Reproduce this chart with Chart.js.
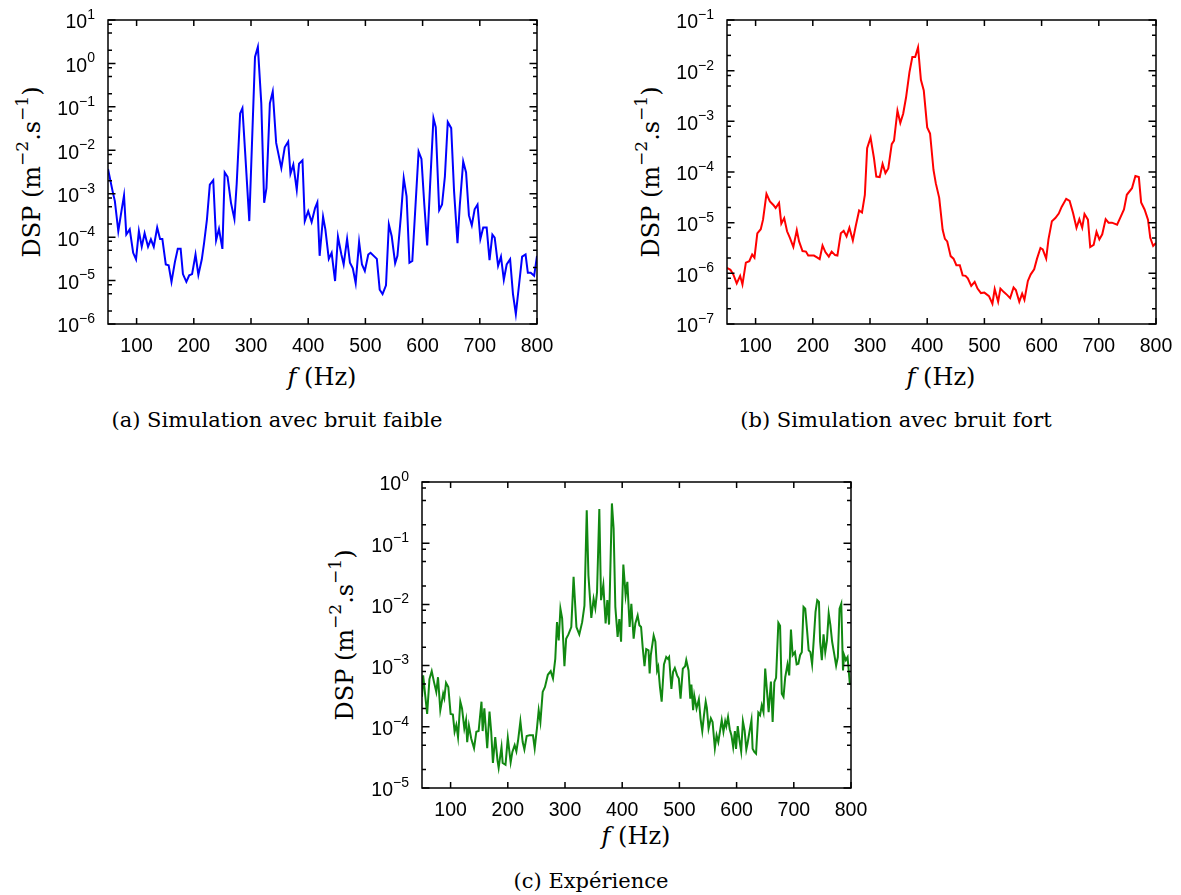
<!DOCTYPE html>
<html lang="fr">
<head>
<meta charset="UTF-8">
<title>DSP - simulations et expérience</title>
<script src="https://cdn.jsdelivr.net/npm/chart.js"></script>
<style>
  html, body { margin: 0; padding: 0; background: #fff; }
  #page { position: relative; width: 1181px; height: 895px; overflow: hidden; }
  #page canvas { position: absolute; }
  .txt { position: absolute; font-family: "DejaVu Serif", serif; color: #000; white-space: nowrap; line-height: 1; transform: translate(-50%, -50%); }
  .xlab { font-size: 24px; }
  .cap { font-size: 21px; }
  .ylab { font-size: 24px; transform: translate(-50%, -50%) rotate(-90deg); }
  .ylab sup { font-size: 17px; position: relative; top: -0.7em; vertical-align: baseline; }
</style>
</head>
<body>
<div id="page">
  <div class="txt ylab" style="left:32px; top:172px">DSP (m<sup>−2</sup>.s<sup>−1</sup>)</div>
  <div class="txt xlab" style="left:322px; top:377px"><i>f</i> (Hz)</div>
  <div class="txt cap" style="left:277px; top:420px">(a) Simulation avec bruit faible</div>

  <div class="txt ylab" style="left:651px; top:172px">DSP (m<sup>−2</sup>.s<sup>−1</sup>)</div>
  <div class="txt xlab" style="left:941px; top:377px"><i>f</i> (Hz)</div>
  <div class="txt cap" style="left:896px; top:420px">(b) Simulation avec bruit fort</div>

  <div class="txt ylab" style="left:345px; top:635px">DSP (m<sup>−2</sup>.s<sup>−1</sup>)</div>
  <div class="txt xlab" style="left:636px; top:836px"><i>f</i> (Hz)</div>
  <div class="txt cap" style="left:591px; top:881px">(c) Expérience</div>
</div>

<script>
// frequency ticks (Hz)
const xTicks = [100, 200, 300, 400, 500, 600, 700, 800];

// (a) simulation, low noise : f (Hz) and log10(DSP)
const freqA = [50,58,62,68,74,78,82,88,94,99,104,109,114,120,125,130,136,141,145,151,156,161,167,172,177,181,187,192,197,203,208,214,218,223,228,234,239,244,250,254,259,265,271,275,281,285,290,297,307,312,318,323,327,333,338,344,353,359,365,369,374,380,384,390,394,400,406,412,416,420,
  426,430,436,441,447,452,458,462,468,473,478,483,489,494,499,505,509,520,525,530,536,541,546,552,556,562,567,572,577,582,593,598,603,608,613,619,623,629,634,639,644,650,655,661,665,671,676,681,686,691,696,701,706,712,717,722,726,732,737,742,747,753,758,763,769,774,780,784,789,795,800];
const logDspA = [-2.43,-2.94,-3.17,-3.86,-3.36,-3.04,-3.94,-3.82,-4.36,-4.51,-3.86,-4.22,-3.91,-4.22,-4.05,-4.22,-3.78,-4.04,-4.04,-4.63,-4.65,-5.03,-4.57,-4.27,-4.27,-4.85,-5.03,-4.88,-4.85,-4.40,-4.87,-4.51,-4.13,-3.59,-2.79,-2.69,-4.07,-3.81,-4.27,-2.51,-2.61,-3.21,-3.58,-2.77,-1.15,-1.03,-2.10,-3.63,0.15,0.38,-0.92,-3.21,-2.87,-0.92,-0.65,-1.83,-2.41,-1.93,-1.80,-2.54,-2.33,-2.91,-2.31,-2.23,-3.63,-3.40,-3.65,-3.33,-3.20,-4.43,
  -3.53,-3.82,-4.50,-4.36,-5.01,-3.99,-4.40,-4.63,-4.04,-4.59,-4.72,-5.06,-4.11,-4.63,-4.78,-4.40,-4.36,-4.50,-5.21,-5.31,-5.11,-3.71,-3.98,-4.60,-4.43,-3.52,-2.64,-3.06,-4.59,-4.55,-2.03,-2.20,-3.25,-4.19,-2.83,-1.26,-1.47,-3.38,-3.25,-2.60,-1.35,-1.49,-2.94,-4.14,-3.27,-2.26,-2.51,-3.50,-3.73,-3.36,-3.25,-4.04,-3.78,-3.78,-4.53,-3.94,-4.01,-4.66,-4.45,-4.98,-4.63,-4.51,-5.31,-5.77,-5.05,-4.45,-4.40,-4.82,-4.82,-4.89,-4.43];

// (b) simulation, high noise
const freqB = [50,56,61,67,73,77,83,89,94,98,103,109,113,119,125,131,135,141,145,150,155,160,166,172,176,182,188,192,202,208,212,217,222,228,233,239,243,249,254,259,264,270,275,281,286,291,295,301,307,311,317,322,327,332,338,342,348,353,358,363,369,374,379,384,389,394,400,405,411,415,
  421,427,431,435,441,446,451,457,462,467,471,477,483,488,494,500,508,514,518,524,528,534,540,545,551,555,561,566,570,576,581,587,592,598,602,608,612,618,624,630,635,643,649,655,661,666,671,675,681,685,691,696,701,706,712,717,723,732,738,744,749,758,764,770,774,780,786,790,795,800];
const logDspB = [-5.89,-5.93,-6.02,-6.20,-6.05,-6.22,-5.79,-5.76,-5.63,-5.69,-5.21,-5.13,-4.94,-4.43,-4.58,-4.65,-4.71,-4.61,-5.02,-4.91,-5.17,-5.30,-5.48,-5.15,-5.37,-5.56,-5.57,-5.65,-5.65,-5.69,-5.72,-5.45,-5.58,-5.67,-5.57,-5.64,-5.65,-5.21,-5.16,-5.27,-5.10,-5.35,-5.07,-4.76,-4.80,-4.45,-3.53,-3.32,-3.73,-4.09,-4.10,-3.84,-4.02,-3.93,-3.45,-3.38,-2.79,-3.03,-2.85,-2.53,-2.03,-1.73,-1.73,-1.54,-2.18,-2.39,-3.12,-3.24,-3.96,-4.22,
  -4.51,-5.14,-5.32,-5.37,-5.66,-5.71,-5.84,-5.84,-6.04,-6.05,-6.10,-6.25,-6.17,-6.30,-6.39,-6.38,-6.45,-6.60,-6.31,-6.56,-6.30,-6.37,-6.43,-6.49,-6.28,-6.33,-6.56,-6.40,-6.52,-6.15,-6.02,-5.92,-5.71,-5.50,-5.53,-5.71,-5.33,-4.97,-4.91,-4.82,-4.69,-4.53,-4.57,-4.81,-5.10,-4.93,-5.10,-4.83,-4.94,-5.48,-5.44,-5.18,-5.33,-5.23,-4.93,-5.00,-5.00,-5.04,-4.89,-4.74,-4.45,-4.32,-4.08,-4.10,-4.60,-4.74,-4.94,-5.30,-5.46,-5.40];

// (c) experiment
const freqC = [50,52,59,63,67,71,75,78,82,87,89,92,96,100,104,107,110,113,117,120,124,127,129,132,136,141,145,149,154,156,159,164,168,171,174,178,182,184,189,191,196,200,205,208,212,215,218,222,226,229,233,238,244,247,251,254,257,261,265,270,275,279,283,286,289,292,295,299,302,306,311,315,320,325,330,334,338,341,346,350,353,356,360,363,367,371,374,377,382,385,388,392,395,398,402,406,409,413,416,420,
  423,427,430,433,436,439,442,446,448,450,455,458,461,463,466,469,473,477,480,482,486,489,492,496,499,502,506,510,512,516,519,521,524,526,530,534,537,540,543,546,548,551,555,558,562,565,568,571,574,577,580,582,585,588,591,594,597,599,602,605,608,611,614,617,619,622,626,628,631,634,638,641,644,647,650,653,656,660,663,666,669,673,676,679,682,685,689,692,695,698,702,705,708,711,714,717,720,723,726,729,732,735,738,741,744,746,749,752,755,758,761,764,767,771,774,777,780,783,786,788,791,794,798,800];
const logDspC = [-3.51,-3.16,-3.79,-3.22,-3.09,-3.27,-3.43,-3.19,-3.73,-3.46,-3.53,-3.28,-3.35,-3.79,-3.80,-4.08,-3.97,-4.17,-3.59,-3.70,-4.03,-3.89,-4.25,-3.98,-4.19,-4.35,-4.08,-4.07,-3.59,-4.07,-3.70,-4.35,-3.75,-4.08,-4.59,-4.17,-4.55,-4.67,-4.33,-4.59,-4.62,-4.18,-4.58,-4.41,-4.30,-4.40,-4.22,-3.91,-4.25,-4.37,-4.15,-4.14,-4.14,-4.35,-4.02,-3.73,-3.92,-3.43,-3.35,-3.15,-3.09,-3.21,-2.89,-2.29,-2.59,-2.07,-2.23,-3.01,-2.56,-2.49,-2.37,-1.55,-2.37,-2.49,-2.29,-2.02,-0.46,-1.53,-2.22,-1.91,-2.06,-1.80,-0.44,-1.93,-1.68,-2.31,-1.93,-2.33,-0.35,-0.76,-2.04,-2.53,-2.24,-2.61,-1.35,-1.85,-1.63,-2.37,-1.99,-2.56,
  -2.31,-2.18,-2.34,-2.37,-2.72,-3.01,-2.73,-2.75,-3.13,-2.83,-2.51,-2.61,-3.08,-3.02,-3.35,-3.59,-2.98,-2.86,-2.89,-2.86,-3.38,-3.10,-3.04,-3.16,-3.21,-3.54,-3.05,-3.01,-2.91,-3.08,-3.54,-3.31,-3.73,-3.49,-3.70,-3.55,-3.87,-4.07,-3.81,-3.59,-3.69,-4.03,-3.86,-3.92,-4.35,-4.14,-4.25,-4.07,-3.89,-4.08,-3.91,-3.99,-3.84,-4.04,-4.14,-4.33,-4.07,-4.36,-3.99,-4.22,-4.40,-3.91,-4.06,-4.37,-4.28,-4.11,-3.89,-4.36,-4.41,-4.44,-3.77,-3.81,-3.65,-3.76,-3.05,-3.40,-3.76,-3.26,-3.92,-3.27,-3.20,-2.30,-2.35,-3.46,-3.51,-3.19,-2.98,-3.16,-2.41,-2.83,-2.78,-2.98,-2.97,-2.83,-2.78,-2.04,-2.07,-2.40,-2.75,-2.78,-2.98,-2.56,-2.12,-1.93,-1.96,-2.61,-2.91,-2.49,-2.78,-2.59,-2.15,-2.34,-2.61,-2.83,-3.00,-2.86,-2.07,-1.99,-3.08,-2.83,-2.91,-2.86,-3.30,-3.30];

Chart.defaults.font.family = '"Liberation Sans", Arial, sans-serif';
Chart.defaults.color = '#000';

// frame, inward ticks on all four sides, 10^n labels
const frameTicks = {
  id: 'frameTicks',
  afterDatasetsDraw(chart) {
    const { ctx, chartArea: a, scales: { x, y } } = chart;
    ctx.save();
    ctx.strokeStyle = '#000';
    ctx.lineWidth = 1.5;
    ctx.strokeRect(a.left, a.top, a.right - a.left, a.bottom - a.top);

    ctx.beginPath();
    xTicks.forEach(v => {
      const px = x.getPixelForValue(v);
      ctx.moveTo(px, a.bottom); ctx.lineTo(px, a.bottom - 6);
      ctx.moveTo(px, a.top); ctx.lineTo(px, a.top + 6);
    });
    const e0 = Math.round(Math.log10(y.min)), e1 = Math.round(Math.log10(y.max));
    for (let e = e0; e <= e1; e++) {
      const py = y.getPixelForValue(Math.pow(10, e));
      ctx.moveTo(a.left, py); ctx.lineTo(a.left + 7.5, py);
      ctx.moveTo(a.right, py); ctx.lineTo(a.right - 7.5, py);
      if (e < e1) {
        [2, 5, 8].forEach(m => {
          const pm = y.getPixelForValue(m * Math.pow(10, e));
          ctx.moveTo(a.left, pm); ctx.lineTo(a.left + 4, pm);
          ctx.moveTo(a.right, pm); ctx.lineTo(a.right - 4, pm);
        });
      }
    }
    ctx.stroke();

    ctx.fillStyle = '#000';
    ctx.textAlign = 'right';
    ctx.textBaseline = 'middle';
    for (let e = e0; e <= e1; e++) {
      const py = y.getPixelForValue(Math.pow(10, e));
      const exp = String(e).replace('-', '\u2212');
      const xr = a.left - 13;
      ctx.font = '14px "Liberation Sans", Arial, sans-serif';
      const we = ctx.measureText(exp).width;
      ctx.fillText(exp, xr, py - 5);
      ctx.font = '19.5px "Liberation Sans", Arial, sans-serif';
      ctx.fillText('10', xr - we, py + 3);
    }
    ctx.restore();
  }
};

const M = { l: 100, t: 16, r: 36, b: 48 };
const X_AXIS_H = 40;

function makePanel(freq, logDsp, color, yMin, yMax, box) {
  const [left, top, right, bottom] = box;
  const w = right - left + M.l + M.r;
  const h = bottom - top + M.t + M.b;
  const cv = document.createElement('canvas');
  cv.width = w; cv.height = h;
  cv.style.width = w + 'px'; cv.style.height = h + 'px';
  cv.style.left = (left - M.l) + 'px';
  cv.style.top = (top - M.t) + 'px';
  document.getElementById('page').appendChild(cv);

  new Chart(cv, {
    type: 'line',
    data: {
      datasets: [{
        data: freq.map((f, i) => ({ x: f, y: Math.pow(10, logDsp[i]) })),
        borderColor: color,
        borderWidth: 2,
        pointRadius: 0,
        tension: 0,
        fill: false
      }]
    },
    options: {
      responsive: false,
      animation: false,
      events: [],
      layout: { padding: { left: M.l, top: M.t, right: M.r, bottom: M.b - X_AXIS_H } },
      plugins: { legend: { display: false }, tooltip: { enabled: false } },
      scales: {
        x: {
          type: 'linear', min: 50, max: 800,
          afterBuildTicks: s => { s.ticks = xTicks.map(v => ({ value: v })); },
          afterFit: s => { s.height = X_AXIS_H; },
          grid: { display: false, drawTicks: false },
          border: { display: false },
          ticks: { color: '#000', font: { size: 19.5 }, padding: 11, maxRotation: 0, autoSkip: false }
        },
        y: { type: 'logarithmic', min: yMin, max: yMax, display: false }
      }
    },
    plugins: [frameTicks]
  });
}

makePanel(freqA, logDspA, '#0000ff', 1e-6, 1e1, [108, 20, 537, 324]);
makePanel(freqB, logDspB, '#ff0000', 1e-7, 1e-1, [727, 20, 1156, 324]);
makePanel(freqC, logDspC, '#118811', 1e-5, 1e0, [422, 482, 851, 788]);
</script>
</body>
</html>
